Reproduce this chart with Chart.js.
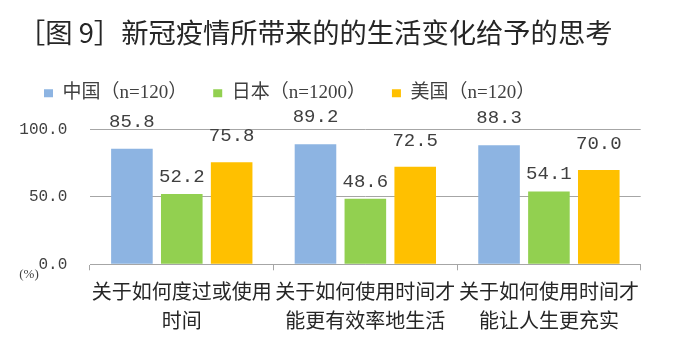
<!DOCTYPE html>
<html><head><meta charset="utf-8">
<script src="https://cdn.jsdelivr.net/npm/chart.js@4/dist/chart.umd.min.js"></script>
<style>html,body{margin:0;padding:0;background:#fff;} #wrap{width:680px;height:348px;}</style>
</head><body><div id="wrap"><canvas id="c" width="680" height="348"></canvas></div>
<script>
const titleText = '［图 9］新冠疫情所带来的的生活变化给予的思考';
const categories = [['关于如何度过或使用', '时间'], ['关于如何使用时间才', '能更有效率地生活'], ['关于如何使用时间才', '能让人生更充实']];
const seriesNames = ['中国（n=120）', '日本（n=1200）', '美国（n=120）'];
const chinaValues = [85.8, 89.2, 88.3];
const japanValues = [52.2, 48.6, 54.1];
const usaValues = [75.8, 72.5, 70.0];
const yTickValues = [0, 50, 100];
const unitLabel = '(%)';

const CJK = '"Noto Sans CJK SC"';
const SERIF = '"Liberation Serif", "Noto Sans CJK SC"';
const MONO = '"Liberation Mono", "Noto Sans CJK SC"';

const labelPlugin = {
  id: 'barLabels',
  afterDatasetsDraw(chart) {
    const ctx = chart.ctx;
    ctx.save();
    ctx.font = '19px ' + MONO;
    ctx.fillStyle = '#404040';
    ctx.textAlign = 'center';
    ctx.textBaseline = 'middle';
    chart.data.datasets.forEach((ds, i) => {
      const meta = chart.getDatasetMeta(i);
      meta.data.forEach((bar, j) => {
        ctx.fillText(ds.data[j].toFixed(1), bar.x, bar.y - ds.labelOffset);
      });
    });
    ctx.restore();
  }
};

const unitPlugin = {
  id: 'unitLabel',
  afterDraw(chart) {
    const ctx = chart.ctx, a = chart.chartArea;
    ctx.save();
    ctx.font = '13px ' + SERIF;
    ctx.fillStyle = '#404040';
    ctx.textAlign = 'center';
    ctx.textBaseline = 'middle';
    ctx.fillText(unitLabel, a.left - 61, a.bottom + 10);
    ctx.restore();
  }
};

new Chart(document.getElementById('c'), {
  type: 'bar',
  data: {
    labels: categories,
    datasets: [
      { label: seriesNames[0], data: chinaValues, backgroundColor: '#8DB4E2', labelOffset: 27 },
      { label: seriesNames[1], data: japanValues, backgroundColor: '#92D050', labelOffset: 17 },
      { label: seriesNames[2], data: usaValues, backgroundColor: '#FFC000', labelOffset: 26 }
    ]
  },
  options: {
    responsive: false,
    animation: false,
    events: [],
    categoryPercentage: 0.815,
    barPercentage: 0.834,
    layout: { padding: { left: 18, right: 39.3, top: 0, bottom: 5.7 } },
    plugins: {
      tooltip: { enabled: false },
      title: {
        display: true, text: titleText, align: 'start', color: '#262626',
        font: { family: CJK, size: 27.3, weight: 'normal', lineHeight: 1 },
        padding: { top: 19, bottom: 11.5 }
      },
      subtitle: {
        display: true, text: '', weight: 500,
        font: { size: 8, lineHeight: 1 },
        padding: { top: 8.8, bottom: 0 }
      },
      legend: {
        display: true, position: 'top', align: 'start',
        labels: {
          boxWidth: 9, boxHeight: 8, padding: 26, color: '#404040',
          font: { family: SERIF, size: 19 }
        }
      }
    },
    scales: {
      x: {
        grid: { display: true, drawOnChartArea: false, offset: true, tickLength: 6, color: '#A6A6A6' },
        border: { color: '#A6A6A6' },
        ticks: {
          autoSkip: false, maxRotation: 0, minRotation: 0, padding: 7, color: '#262626',
          font: { family: CJK, size: 20, lineHeight: 29 / 20 }
        }
      },
      y: {
        min: 0, max: 100,
        afterBuildTicks: s => { s.ticks = yTickValues.map(v => ({ value: v })); },
        afterFit: s => { s.width = 72; },
        grid: { color: '#A6A6A6', drawTicks: false },
        border: { display: false },
        ticks: {
          padding: 22.7, color: '#404040',
          font: { family: MONO, size: 16 },
          callback: v => Number(v).toFixed(1)
        }
      }
    }
  },
  plugins: [labelPlugin, unitPlugin]
});
</script>
</body></html>
